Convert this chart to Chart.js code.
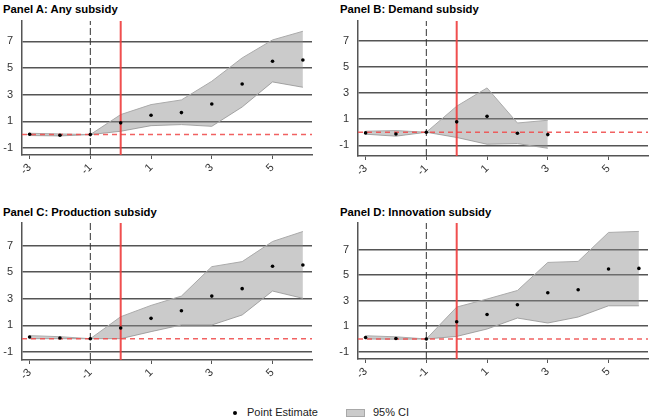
<!DOCTYPE html>
<html>
<head>
<meta charset="utf-8">
<script src="https://cdn.jsdelivr.net/npm/chart.js@4/dist/chart.umd.min.js"></script>
<style>
  body { margin: 0; width: 651px; height: 419px; background: #fff; position: relative; overflow: hidden;
         font-family: 'Liberation Sans', Arial, sans-serif; }
  canvas { position: absolute; }
  .title { position: absolute; font-weight: bold; font-size: 11.3px; color: #000; line-height: 16px; }
  .legend { position: absolute; top: 405px; font-size: 11px; color: #222; line-height: 14px; }
  .dot { position: absolute; width: 4px; height: 4px; border-radius: 2px; background: #000; }
  .box { position: absolute; width: 17px; height: 6px; background: #cbcbcb; border: 1px solid #a8a8a8; }
</style>
</head>
<body>
<div class="title" style="left:3px;top:1px">Panel A: Any subsidy</div>
<div class="title" style="left:340px;top:1px">Panel B: Demand subsidy</div>
<div class="title" style="left:3px;top:204px">Panel C: Production subsidy</div>
<div class="title" style="left:340px;top:204px">Panel D: Innovation subsidy</div>
<canvas id="pa"></canvas>
<canvas id="pb"></canvas>
<canvas id="pc"></canvas>
<canvas id="pd"></canvas>
<div class="dot" style="left:233px;top:411px"></div>
<div class="legend" style="left:247px">Point Estimate</div>
<div class="box" style="left:346px;top:409px"></div>
<div class="legend" style="left:373px">95% CI</div>
<script>
// event time (years relative to subsidy)
const periods = [-3, -2, -1, 0, 1, 2, 3, 4, 5, 6]
const xTicks = [-3, -1, 1, 3, 5]
const yTicks = [-1, 1, 3, 5, 7]

// Panel A: Any subsidy
const anyEst = [0.03, -0.05, 0, 0.88, 1.45, 1.65, 2.3, 3.8, 5.5, 5.6]
const anyHi = [0.1, 0.05, 0, 1.5, 2.25, 2.6, 4.0, 5.75, 7.1, 7.75]
const anyLo = [-0.07, -0.1, 0, 0.25, 0.67, 0.75, 0.62, 2.07, 3.95, 3.55]

// Panel B: Demand subsidy
const demandEst = [-0.05, -0.13, 0, 0.8, 1.22, -0.08, -0.18]
const demandHi = [0.08, 0.13, 0, 2.0, 3.4, 0.71, 0.92]
const demandLo = [-0.15, -0.3, 0, -0.4, -0.92, -0.87, -1.23]

// Panel C: Production subsidy
const prodEst = [0.13, 0.05, 0, 0.8, 1.53, 2.1, 3.2, 3.76, 5.44, 5.54]
const prodHi = [0.23, 0.15, 0, 1.65, 2.5, 3.2, 5.41, 5.79, 7.3, 8.05]
const prodLo = [0, 0, 0, 0, 0.53, 1.03, 1.03, 1.78, 3.58, 3.03]

// Panel D: Innovation subsidy
const innovEst = [0.12, 0.04, 0, 1.35, 1.92, 2.68, 3.62, 3.86, 5.48, 5.53]
const innovHi = [0.25, 0.17, 0, 2.5, 3.13, 3.8, 6.0, 6.08, 8.35, 8.43]
const innovLo = [0, -0.02, 0, 0.2, 0.78, 1.64, 1.25, 1.72, 2.6, 2.6]

const xMin = -3.25, xMax = 6.3
const axisGrey = '#555'

function pts(vals) {
    return vals.map((v, i) => ({ x: periods[i], y: v }))
}

function makePanel(id, area, yMin, yMax, est, hi, lo) {
    const el = document.getElementById(id)
    const yW = 22, xH = 32, pad = 2
    const w = area.right - area.left + yW + pad
    const h = area.bottom - area.top + xH + pad
    el.style.left = (area.left - yW) + 'px'
    el.style.top = (area.top - pad) + 'px'
    el.style.width = w + 'px'
    el.style.height = h + 'px'
    el.width = w
    el.height = h

    new Chart(el.getContext('2d'), {
        type: 'scatter',
        data: {
            datasets: [{
                label: 'Point Estimate',
                data: pts(est),
                backgroundColor: '#000',
                borderWidth: 0,
                pointRadius: 1.8,
                showLine: false,
            }, {
                label: 'treated',
                data: [{ x: 0, y: yMin }, { x: 0, y: yMax }],
                showLine: true,
                borderColor: 'rgba(238, 60, 60, 0.9)',
                borderWidth: 2,
                pointRadius: 0,
            }, {
                label: 'base',
                data: [{ x: -1, y: yMin }, { x: -1, y: yMax }],
                showLine: true,
                borderColor: '#333',
                borderWidth: 1,
                borderDash: [7, 3],
                pointRadius: 0,
            }, {
                label: 'zero',
                data: [{ x: xMin, y: 0 }, { x: xMax, y: 0 }],
                showLine: true,
                borderColor: 'rgba(240, 80, 80, 0.9)',
                borderWidth: 1.5,
                borderDash: [5, 4],
                pointRadius: 0,
            }, {
                label: '95% CI',
                data: pts(hi),
                showLine: true,
                borderColor: '#aaa',
                borderWidth: 1,
                pointRadius: 0,
                fill: '+1',
                backgroundColor: 'rgba(140, 140, 140, 0.45)',
            }, {
                label: 'lo',
                data: pts(lo),
                showLine: true,
                borderColor: '#aaa',
                borderWidth: 1,
                pointRadius: 0,
                fill: false,
            }]
        },
        options: {
            responsive: false,
            animation: false,
            layout: { autoPadding: false, padding: { top: pad, right: pad, left: 0, bottom: 0 } },
            plugins: { legend: { display: false }, tooltip: { enabled: false } },
            scales: {
                x: {
                    type: 'linear',
                    min: xMin,
                    max: xMax,
                    afterBuildTicks: s => { s.ticks = xTicks.map(v => ({ value: v })) },
                    afterFit: s => { s.height = xH; s.paddingLeft = 0; s.paddingRight = 0 },
                    ticks: {
                        minRotation: 45,
                        maxRotation: 45,
                        padding: 2,
                        color: '#333',
                        font: { family: 'Liberation Sans', size: 11 },
                    },
                    grid: { drawOnChartArea: false, color: axisGrey, tickLength: 4, lineWidth: 1 },
                    border: { color: axisGrey, width: 1.5 },
                },
                y: {
                    type: 'linear',
                    min: yMin,
                    max: yMax,
                    afterBuildTicks: s => { s.ticks = yTicks.map(v => ({ value: v })) },
                    afterFit: s => { s.width = yW; s.paddingTop = 0; s.paddingBottom = 0 },
                    ticks: {
                        padding: 9,
                        color: '#333',
                        font: { family: 'Liberation Sans', size: 11 },
                    },
                    grid: { color: '#555', lineWidth: 1.5, drawTicks: false },
                    border: { color: axisGrey, width: 1.5 },
                }
            }
        }
    })
}

makePanel('pa', { left: 22, right: 312, top: 21, bottom: 155 }, -1.53, 8.52, anyEst, anyHi, anyLo)
makePanel('pb', { left: 358, right: 648, top: 21, bottom: 156 }, -1.82, 8.53, demandEst, demandHi, demandLo)
makePanel('pc', { left: 22, right: 312, top: 223, bottom: 360 }, -1.6, 8.69, prodEst, prodHi, prodLo)
makePanel('pd', { left: 358, right: 648, top: 223, bottom: 359 }, -1.57, 9.09, innovEst, innovHi, innovLo)
</script>
</body>
</html>
